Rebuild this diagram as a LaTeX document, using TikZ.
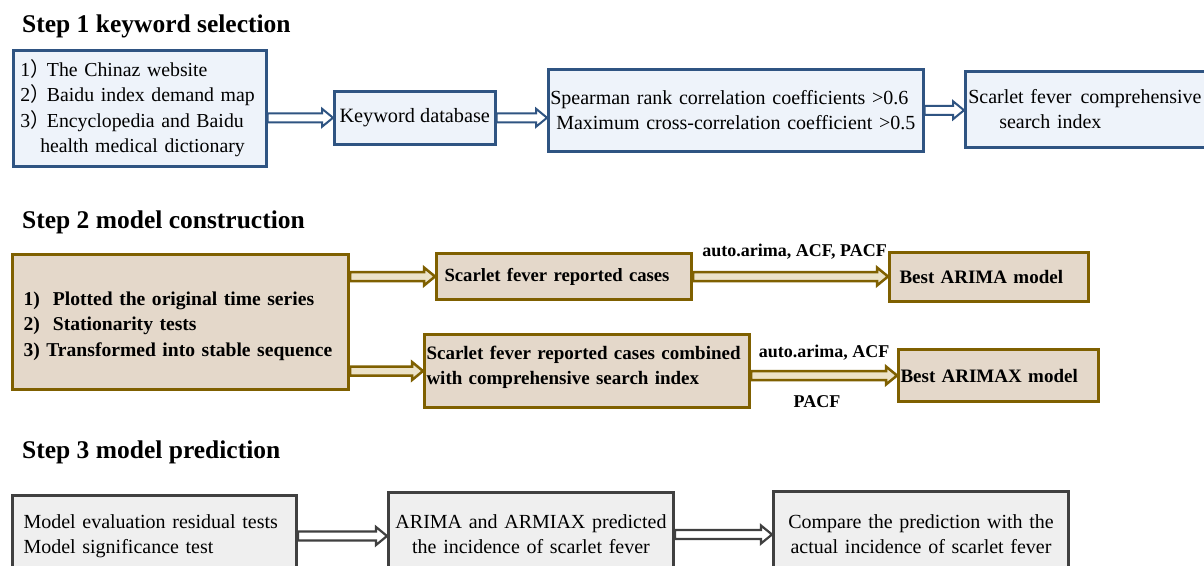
\documentclass[tikz,border=0pt]{standalone}
\usepackage{fontspec}
\setmainfont{Liberation Serif}
\newfontfamily\cjk{Noto Sans CJK SC}
\usetikzlibrary{calc}
\definecolor{blueline}{RGB}{47,84,130}
\definecolor{bluefill}{RGB}{238,243,250}
\definecolor{tanfill}{RGB}{228,216,202}
\definecolor{oliveline}{RGB}{127,96,0}
\definecolor{arrowtan}{RGB}{236,226,200}
\definecolor{grayfill}{RGB}{239,239,239}
\definecolor{grayline}{RGB}{64,64,64}
% block arrow between two points on one horizontal line
\newcommand\blockarrow[3]{%
  \draw[#1] let \p1=#2, \p2=#3 in
    (\x1,\y1+4.5pt) -- (\x2-11pt,\y2+4.5pt) -- (\x2-11pt,\y2+9pt) -- (\x2,\y2)
    -- (\x2-11pt,\y2-9pt) -- (\x2-11pt,\y2-4.5pt) -- (\x1,\y1-4.5pt) -- cycle;}
\newcommand\fwp{{\cjk ）}\kern-3pt}
\begin{document}
\begin{tikzpicture}[x=1pt,y=-1pt,
  headtxt/.style={font=\fontsize{25.5}{30}\selectfont\bfseries, anchor=base west, inner sep=0pt},
  boxbase/.style={rectangle, anchor=north west, inner ysep=0pt},
  bluebox/.style={boxbase, draw=blueline, fill=bluefill, line width=2.5pt, font=\fontsize{20}{25.5}\selectfont},
  tanbox/.style={boxbase, draw=oliveline, fill=tanfill, line width=3pt, font=\fontsize{19}{25}\selectfont\bfseries},
  graybox/.style={boxbase, draw=grayline, fill=grayfill, line width=3pt, font=\fontsize{20}{25}\selectfont},
  labtxt/.style={font=\fontsize{18}{22}\selectfont\bfseries},
  barrow/.style={draw=blueline, fill=white, line width=2pt, line join=miter},
  tarrow/.style={draw=oliveline, fill=arrowtan, line width=2.5pt, line join=miter},
  garrow/.style={draw=grayline, fill=white, line width=2.2pt, line join=miter}
]
\clip (0,0) rectangle (1204,565);
\fill[white] (0,0) rectangle (1204,565);

% ---------- Step 1 ----------
\node[headtxt] (h1) at (22,32) {Step 1 keyword selection};

\node[bluebox, minimum width=253pt, minimum height=116pt, inner xsep=7pt,
      text width=239pt, align=left, font=\fontsize{19.8}{25.5}\selectfont] (A) at (12,49)
 {\mbox{1\fwp The Chinaz website}\\
  \mbox{2\fwp Baidu index demand map}\\
  \mbox{3\fwp Encyclopedia and Baidu}\\
  \mbox{\hspace*{20pt}health medical dictionary}};

\node[bluebox, minimum width=161pt, minimum height=53pt, inner xsep=2pt,
      align=center, font=\fontsize{20.3}{25}\selectfont] (B) at (333,90) {Keyword database};

\node[bluebox, minimum width=375pt, minimum height=82pt, inner xsep=2pt,
      text width=371pt, align=left] (C) at (547,68)
 {\mbox{Spearman rank correlation coefficients >0.6}\\
  \mbox{\hspace*{6pt}Maximum cross-correlation coefficient >0.5}};

\node[bluebox, minimum width=260pt, minimum height=76pt, inner xsep=3pt,
      text width=254pt, align=left, font=\fontsize{20}{24.5}\selectfont] (D) at (964,70)
 {\mbox{Scarlet fever\hspace{9pt}comprehensive}\\
  \mbox{\hspace*{31pt}search index}};

\blockarrow{barrow}{(A.east |- B.west)}{(B.west)}
\blockarrow{barrow}{(B.east)}{(B.east -| C.west)}
\blockarrow{barrow}{(C.east)}{(C.east -| D.west)}

% ---------- Step 2 ----------
\node[headtxt] (h2) at (22,228) {Step 2 model construction};

\node[tanbox, minimum width=336pt, minimum height=135pt, inner xsep=11pt,
      text width=314pt, align=left, font=\fontsize{19.6}{25.5}\selectfont\bfseries] (E) at (11,253)
 {\mbox{}\\[-4pt]
  \mbox{1)\ \ Plotted the original time series}\\
  \mbox{2)\ \ Stationarity tests}\\
  \mbox{3) Transformed into stable sequence}};

\node[tanbox, minimum width=255pt, minimum height=46pt, inner xsep=8pt,
      text width=239pt, align=left, font=\fontsize{18.7}{25}\selectfont\bfseries] (F) at (435,252)
 {\mbox{Scarlet fever reported cases}};

\node[tanbox, minimum width=199pt, minimum height=49pt, inner xsep=10pt,
      text width=179pt, align=left] (G) at (888,251) {\mbox{Best ARIMA model}};

\node[tanbox, minimum width=325pt, minimum height=73pt, inner xsep=2pt,
      text width=321pt, align=left] (H) at (423,333)
 {\mbox{Scarlet fever reported cases combined}\\
  \mbox{with comprehensive search index}\\[-13pt]\mbox{}};

\node[tanbox, minimum width=200pt, minimum height=52pt, inner xsep=2pt,
      text width=196pt, align=left] (I) at (897,348) {\mbox{Best ARIMAX model}};

\blockarrow{tarrow}{(E.east |- F.west)}{(F.west)}
\blockarrow{tarrow}{(E.east |- H.west)}{(H.west)}
\blockarrow{tarrow}{(F.east)}{(F.east -| G.west)}
\blockarrow{tarrow}{(H.east |- I.west)}{(I.west)}
\path (F.east) -- (F.east -| G.west)
  node[labtxt, midway, above=14pt, xshift=4pt] (l1) {auto.arima, ACF, PACF};
\path (H.east |- I.west) -- (I.west)
  node[labtxt, midway, above=12pt] (l2) {auto.arima, ACF}
  node[labtxt, midway, below=17pt, xshift=-7pt] (l3) {PACF};

% ---------- Step 3 ----------
\node[headtxt] (h3) at (22,458) {Step 3 model prediction};

\node[graybox, minimum width=284pt, minimum height=81pt, inner xsep=11pt,
      text width=262pt, align=left] (J) at (11,494)
 {\mbox{Model evaluation residual tests}\\
  \mbox{Model significance test}};

\node[graybox, minimum width=285pt, minimum height=84pt, inner xsep=2pt,
      text width=281pt, align=center] (K) at (387,491)
 {ARIMA and ARMIAX predicted\\
  the incidence of scarlet fever};

\node[graybox, minimum width=295pt, minimum height=85pt, inner xsep=2pt,
      text width=291pt, align=center] (L) at (772,490)
 {Compare the prediction with the\\
  actual incidence of scarlet fever};

\blockarrow{garrow}{(J.east)}{(J.east -| K.west)}
\blockarrow{garrow}{(K.east)}{(K.east -| L.west)}
\end{tikzpicture}
\end{document}
